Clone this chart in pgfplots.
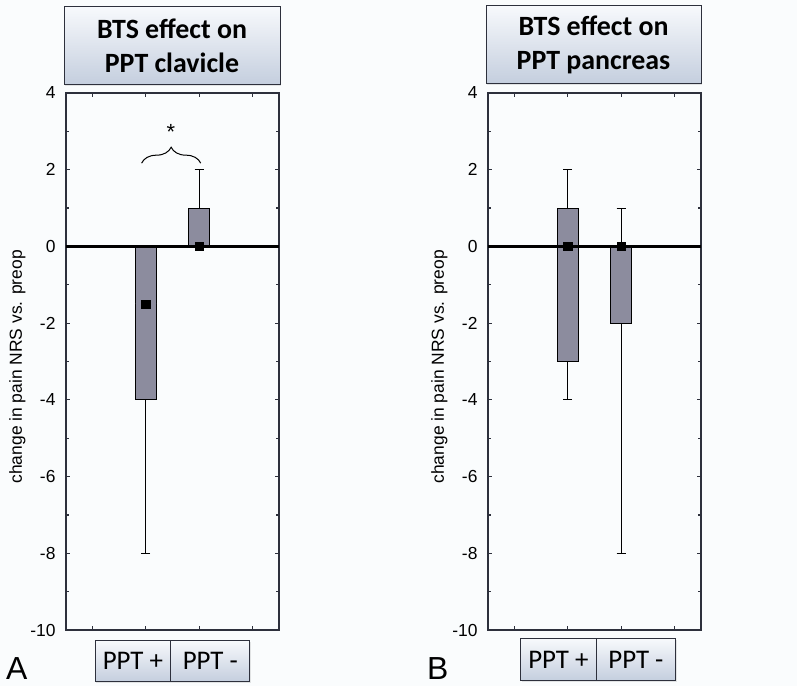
\documentclass[border=0pt]{standalone}
\usepackage{pgfplots}
\pgfplotsset{compat=1.18}
\usepgfplotslibrary{statistics}
\usetikzlibrary{decorations.pathreplacing,shadows}
\usepackage{fontspec}
\setmainfont{Liberation Sans}
\newfontfamily\calibri{Carlito}

\definecolor{boxgray}{RGB}{140,140,158}
\definecolor{axisline}{RGB}{45,48,60}
\definecolor{bg}{RGB}{250,252,253}
\definecolor{tabtop}{RGB}{247,249,252}
\definecolor{tabbot}{RGB}{196,206,222}

\pgfplotsset{
  panel/.style={
    scale only axis, width=213bp, height=537bp, anchor=south west,
    xmin=0.5, xmax=4.5, ymin=-10, ymax=4,
    xtick={1,2,3,4}, xticklabels={},
    ytick={-10,-8,...,4}, minor ytick={-9,-7,...,3},
    tick align=inside, major tick length=4bp, minor tick length=3bp,
    axis line style={axisline, line width=1.6bp},
    every tick/.style={axisline, line width=1.2bp},
    /pgf/number format/assume math mode=true,
    yticklabel style={font=\fontsize{17.5}{19}\selectfont, xshift=-7bp},
    ylabel={change in pain NRS vs. preop},
    ylabel style={at={(axis description cs:-0.228,0.49)}, anchor=center,
      font=\fontsize{17.5}{19}\selectfont},
    boxplot/draw direction=y,
    boxplot/every median/.style={draw=none},
    clip=false,
  },
  bx/.style={draw=black, fill=boxgray, line width=1bp, solid, mark=none},
}

\tikzset{
  tab/.style={draw=axisline, line width=1bp, top color=tabtop, bottom color=tabbot,
    inner sep=0pt, align=center,
    drop shadow={opacity=0.2, shadow xshift=1bp, shadow yshift=-1.2bp}},
}

\begin{document}
\begin{tikzpicture}
\useasboundingbox (0,0) rectangle (797bp,686bp);
\fill[bg] (0,0) rectangle (797bp,686bp);

% Panel A: clavicle
\begin{axis}[panel, at={(66bp,56bp)}]
  \addplot[bx, boxplot prepared={draw position=2, lower whisker=-8,
    lower quartile=-4, median=-1.5, upper quartile=0, upper whisker=0,
    box extend=0.4, whisker extend=0.17}] coordinates {};
  \addplot[bx, boxplot prepared={draw position=3, lower whisker=0,
    lower quartile=0, median=0, upper quartile=1, upper whisker=2,
    box extend=0.4, whisker extend=0.17}] coordinates {};
  \addplot[black, line width=3.2bp] coordinates {(0.5,0) (4.5,0)};
  \addplot[only marks, mark=square*, mark size=4.2bp, black] coordinates {(2,-1.5) (3,0)};
  \draw[decorate, decoration={brace, amplitude=16bp}, line width=1bp]
    (axis cs:1.92,2.17) -- (axis cs:3.03,2.17);
  \node[anchor=north, inner sep=0pt, font=\fontsize{22}{24}\selectfont]
    at (axis cs:2.47,3.18) {*};
\end{axis}

% Panel B: pancreas
\begin{axis}[panel, at={(488bp,56bp)}]
  \addplot[bx, boxplot prepared={draw position=2, lower whisker=-4,
    lower quartile=-3, median=0, upper quartile=1, upper whisker=2,
    box extend=0.4, whisker extend=0.17}] coordinates {};
  \addplot[bx, boxplot prepared={draw position=3, lower whisker=-8,
    lower quartile=-2, median=0, upper quartile=0, upper whisker=1,
    box extend=0.4, whisker extend=0.17}] coordinates {};
  \addplot[black, line width=3.2bp] coordinates {(0.5,0) (4.5,0)};
  \addplot[only marks, mark=square*, mark size=4.2bp, black] coordinates {(2,0) (3,0)};
\end{axis}

% Panel titles
\node[tab, minimum width=216bp, minimum height=78bp,
  font=\calibri\bfseries\fontsize{28}{34}\selectfont] at (172bp,640bp)
  {BTS effect on\\PPT clavicle};
\node[tab, minimum width=215bp, minimum height=78bp,
  font=\calibri\bfseries\fontsize{28}{34}\selectfont] at (593.5bp,641bp)
  {BTS effect on\\PPT pancreas};

% Group labels
\node[tab, minimum width=75.7bp, minimum height=41.3bp,
  font=\calibri\fontsize{27}{29}\selectfont] at (132.9bp,24.7bp) {PPT +};
\node[tab, minimum width=79.3bp, minimum height=41.3bp,
  font=\calibri\fontsize{27}{29}\selectfont] at (210.3bp,24.7bp) {PPT -};
\node[tab, minimum width=75.3bp, minimum height=41.7bp,
  font=\calibri\fontsize{27}{29}\selectfont] at (558.4bp,26.2bp) {PPT +};
\node[tab, minimum width=79.7bp, minimum height=41.7bp,
  font=\calibri\fontsize{27}{29}\selectfont] at (635.9bp,26.2bp) {PPT -};

% Panel letters
\node[anchor=base west, inner sep=0pt, font=\fontsize{32}{34}\selectfont] at (6bp,7bp) {A};
\node[anchor=base west, inner sep=0pt, font=\fontsize{32}{34}\selectfont] at (427bp,7bp) {B};
\end{tikzpicture}
\end{document}
